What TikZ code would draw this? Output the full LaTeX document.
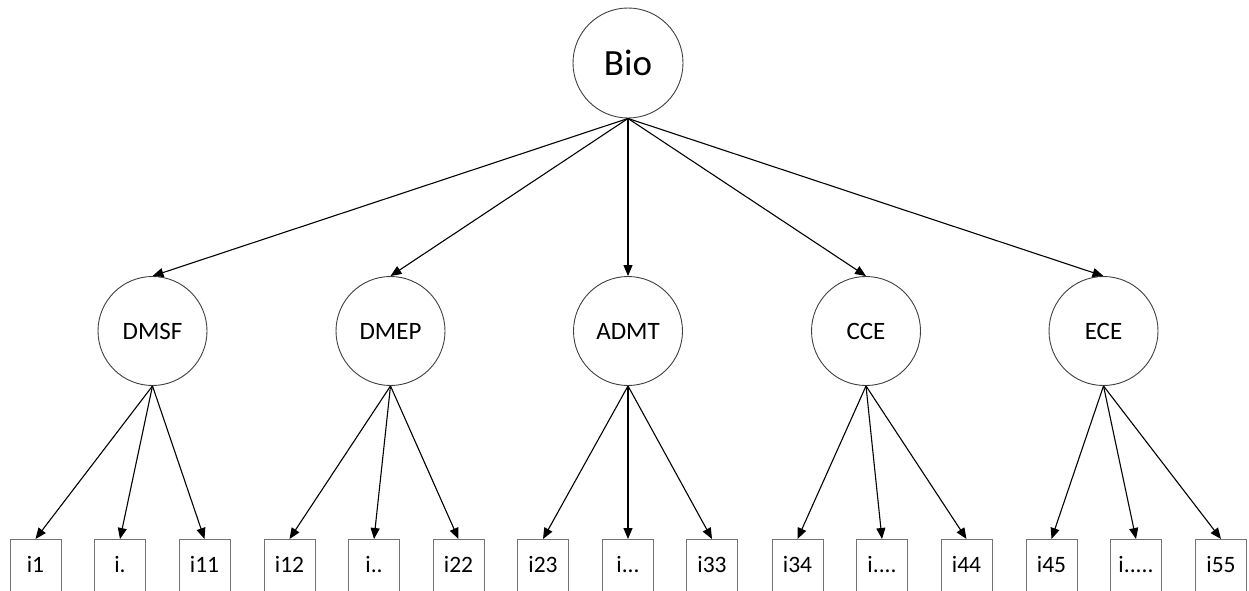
\documentclass[tikz,border=0pt]{standalone}
\usepackage{fontspec}
\setmainfont{Carlito}
\usetikzlibrary{arrows.meta}
\begin{document}
\begin{tikzpicture}[x=1pt,y=-1pt,
  rootc/.style={circle,draw=black!75,line width=0.9pt,minimum size=110pt,inner sep=0pt,font=\fontsize{37}{42}\selectfont},
  latc/.style={circle,draw=black!75,line width=0.9pt,minimum size=109pt,inner sep=0pt,font=\fontsize{25}{30}\selectfont},
  itembox/.style={rectangle,draw=black!55,line width=0.9pt,minimum width=51pt,inner xsep=0pt,inner ysep=0pt,
    text height=33pt,text depth=40pt,anchor=north,font=\fontsize{23.5}{28}\selectfont},
  arr/.style={-{Triangle[length=11pt,width=9pt]},line width=1.1pt,black}]
\clip (0,0) rectangle (1249,590);
\fill[white] (0,0) rectangle (1249,590);
\node[rootc] (bio) at (628,63) {Bio};
\node[latc] (dmsf) at (152.5,331) {DMSF};
\node[latc] (dmep) at (390.5,331) {DMEP};
\node[latc] (admt) at (628,331) {ADMT};
\node[latc] (cce) at (866,331) {CCE};
\node[latc] (ece) at (1103.5,331) {ECE};
\foreach \n in {dmsf,dmep,admt,cce,ece}
  \draw[arr] (bio.south) -- (\n.north);
\node[itembox] (i1) at (35.5,539) {i1};
\node[itembox] (ia) at (120,539) {i.};
\node[itembox] (i11) at (204.5,539) {i11};
\node[itembox] (i12) at (289.5,539) {i12};
\node[itembox] (ib) at (374,539) {i..};
\node[itembox] (i22) at (458.5,539) {i22};
\node[itembox] (i23) at (543,539) {i23};
\node[itembox] (ic) at (628,539) {i...};
\node[itembox] (i33) at (712,539) {i33};
\node[itembox] (i34) at (797.5,539) {i34};
\node[itembox] (id) at (882,539) {i....};
\node[itembox] (i44) at (966.5,539) {i44};
\node[itembox] (i45) at (1051.5,539) {i45};
\node[itembox] (ie) at (1136,539) {i.....};
\node[itembox] (i55) at (1221,539) {i55};
\foreach \p/\a/\b/\c in {dmsf/i1/ia/i11,dmep/i12/ib/i22,admt/i23/ic/i33,cce/i34/id/i44,ece/i45/ie/i55}{
  \draw[arr] (\p.south) -- (\a.north);
  \draw[arr] (\p.south) -- (\b.north);
  \draw[arr] (\p.south) -- (\c.north);
}
\end{tikzpicture}
\end{document}
